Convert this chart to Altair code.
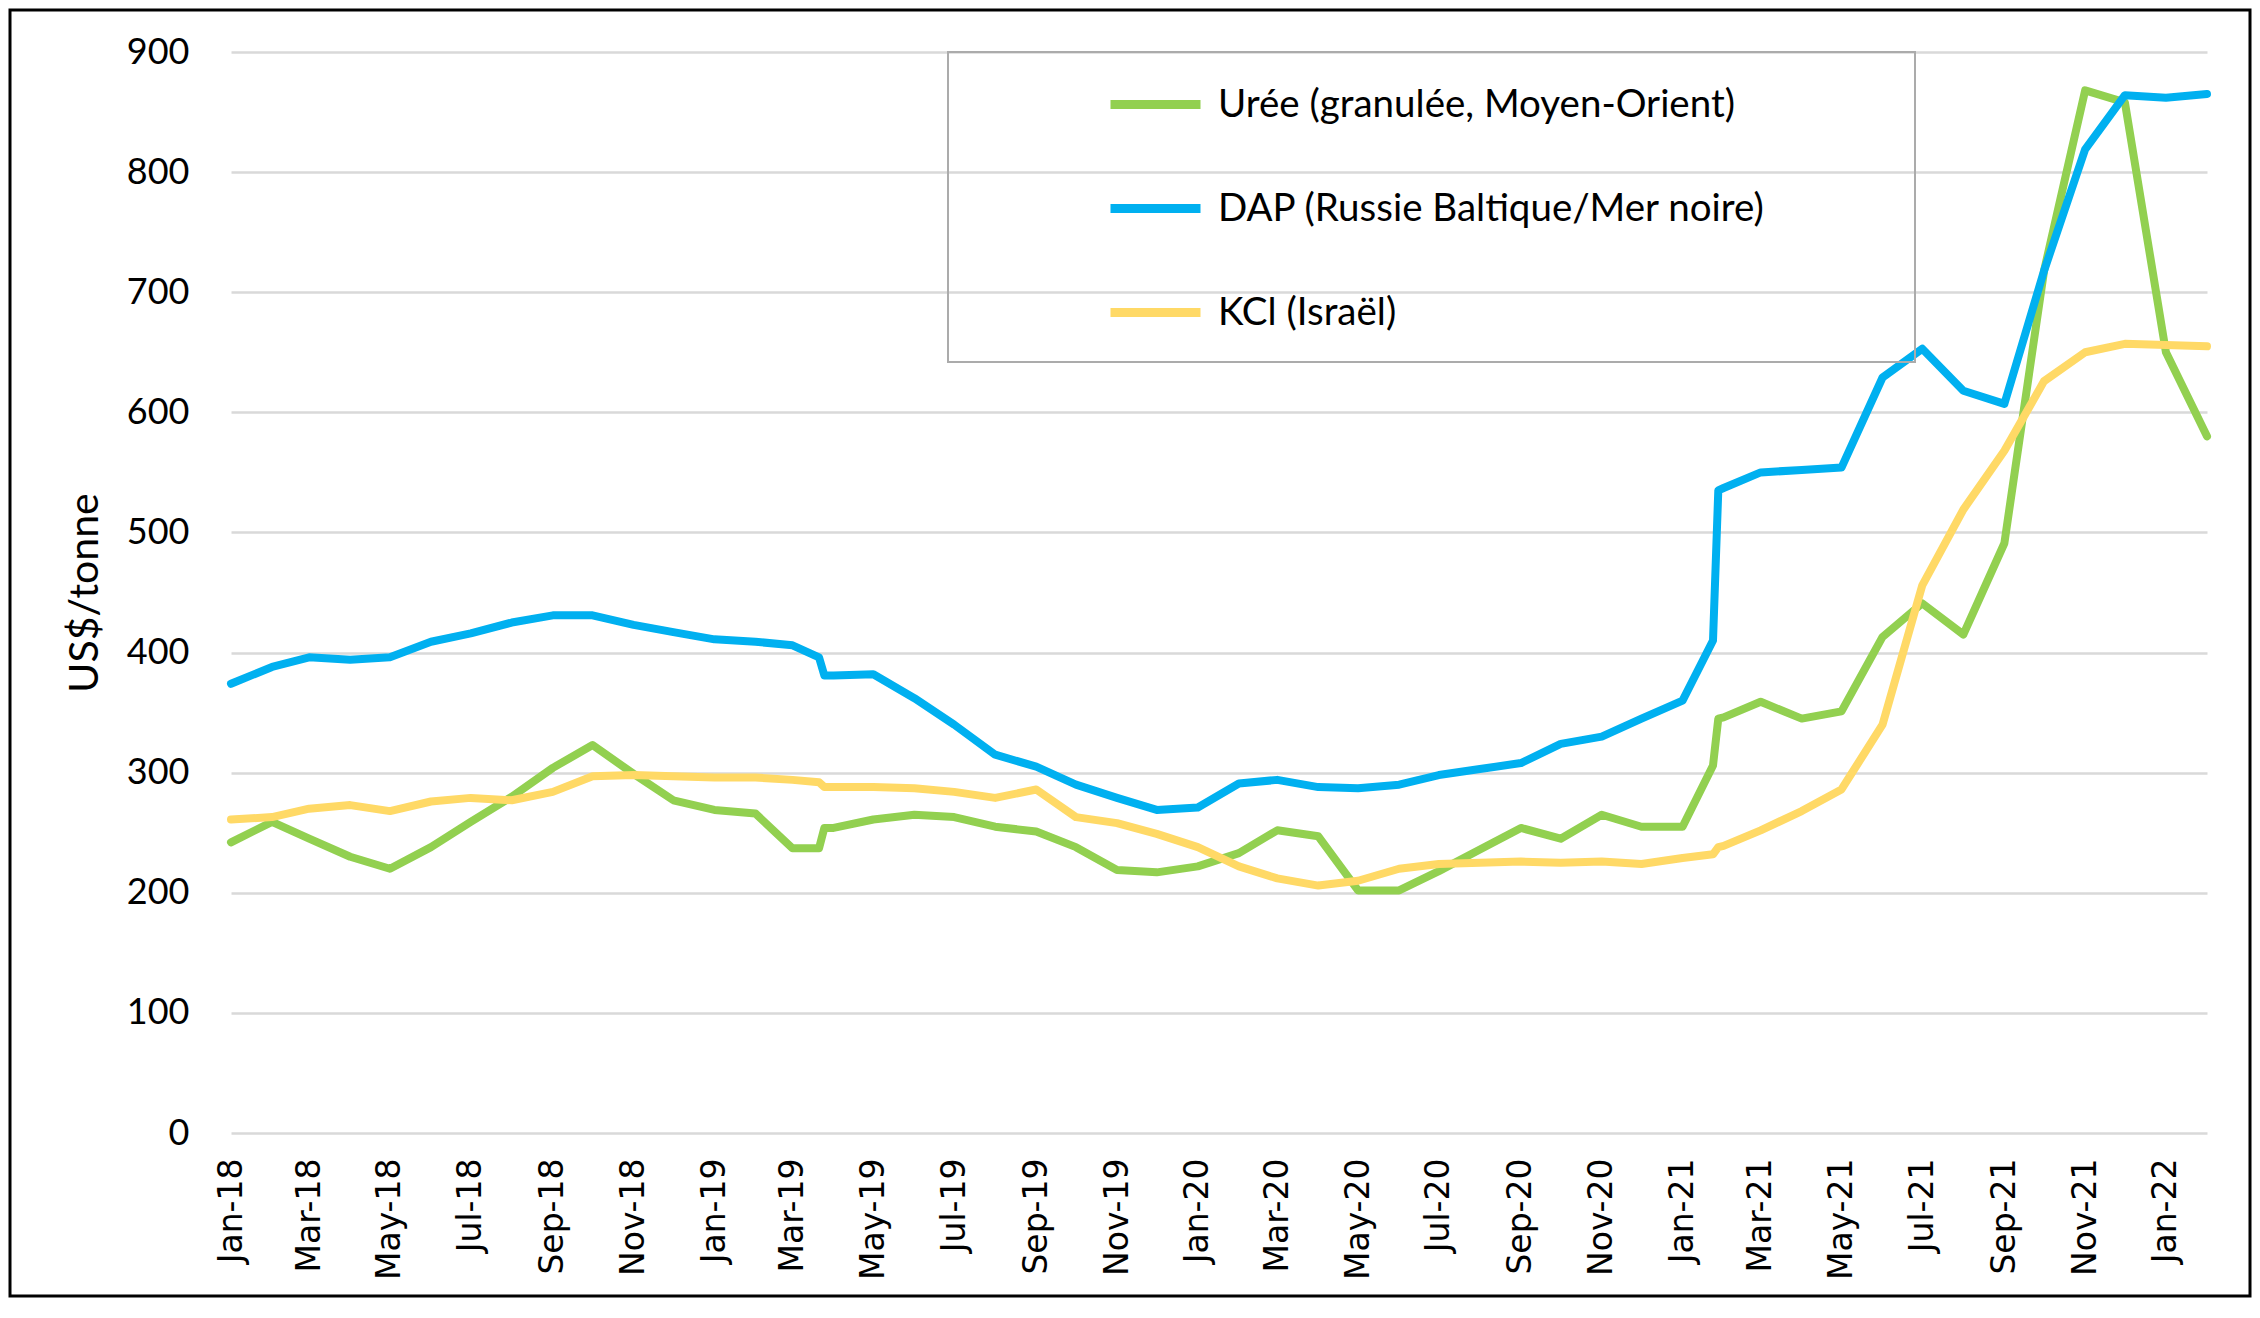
import altair as alt
import pandas as pd

# ---- data (monthly) ----
months = [f"{y}-{m:02d}-01" for y in range(2018, 2023) for m in range(1, 13)][:50]  # Jan-18 .. Feb-22

uree = [242, 259, 245, 230, 220, 238, 259, 280, 304, 323, 299, 277,
        269, 266, 237, 254, 261, 265, 263, 255, 251, 238, 219, 217,
        222, 233, 252, 247, 202, 202, 218, 236, 254, 245, 265, 255,
        255, 346, 359, 345, 351, 413, 441, 415, 491, 718, 868, 858,
        650, 580]
dap = [374, 388, 396, 394, 396, 409, 416, 425, 431, 431, 423, 417,
       411, 409, 406, 381, 382, 362, 340, 315, 305, 290, 279, 269,
       271, 291, 294, 288, 287, 290, 298, 303, 308, 324, 330, 345,
       360, 537, 550, 552, 554, 629, 653, 618, 607, 718, 819, 864,
       862, 865]
kcl = [261, 263, 270, 273, 268, 276, 279, 277, 284, 297, 298, 297,
       296, 296, 294, 288, 288, 287, 284, 279, 286, 263, 258, 249,
       238, 222, 212, 206, 210, 220, 224, 225, 226, 225, 226, 224,
       229, 239, 252, 268, 286, 340, 456, 519, 568, 626, 650, 657,
       656, 655]

# extra points where the source changes (steps in the series): before / after
step_dates = ["2019-03-21", "2019-03-25", "2021-01-24", "2021-01-28"]
uree_step = [237, 254, 306, 345]
dap_step = [396, 381, 410, 535]
kcl_step = [292, 288, 232, 238]

names = ["Urée (granulée, Moyen-Orient)", "DAP (Russie Baltique/Mer noire)", "KCl (Israël)"]
colors = ["#92D050", "#00B0F0", "#FFD966"]

tick_dates = [(y, m) for y in range(2018, 2023) for m in (1, 3, 5, 7, 9, 11) if (y, m) <= (2022, 1)]

rows = []
for name, vals, steps in zip(names, [uree, dap, kcl], [uree_step, dap_step, kcl_step]):
    for d, v in zip(months, vals):
        rows.append({"date": d, "value": v, "series": name})
    for d, v in zip(step_dates, steps):
        rows.append({"date": d, "value": v, "series": name})
df = pd.DataFrame(rows)

FONT = "Lato"

color = alt.Color(
    "series:N",
    scale=alt.Scale(domain=names, range=colors),
    legend=alt.Legend(
        orient="none", legendX=717, legendY=0, direction="vertical",
        title="\u00a0", titleOrient="right", titleAnchor="start", titleBaseline="top",
        titleFont="DejaVu Sans", titleFontSize=307, titlePadding=146, titleLimit=5000,
        symbolType="stroke", symbolStrokeWidth=9, symbolSize=8100,
        labelFont=FONT, labelFontSize=38.5, labelColor="black", labelLimit=2000,
        labelOffset=13, rowPadding=35, padding=3, symbolOffset=155,
        strokeColor="#ABABAB",
    ),
)

x = alt.X(
    "date:T",
    scale=alt.Scale(type="utc", domain=[alt.DateTime(year=2018, month=1, date=1, utc=True),
                                        alt.DateTime(year=2022, month=2, date=1, utc=True)]),
    axis=alt.Axis(
        values=[alt.DateTime(year=y, month=m, date=1, utc=True) for y, m in tick_dates],
        labelExpr="utcFormat(datum.value, '%b-%y')", labelAngle=270, labelAlign="right",
        labelBaseline="middle", labelPadding=25, grid=False, domain=False, ticks=False,
        labelFont="DejaVu Sans", labelFontSize=33, labelColor="black",
        labelFlush=False, labelOverlap=False, title=None,
    ),
)
y = alt.Y(
    "value:Q",
    scale=alt.Scale(domain=[0, 900], nice=False),
    axis=alt.Axis(
        values=list(range(0, 901, 100)), grid=True, gridColor="#D9D9D9", gridWidth=2.5,
        domain=False, ticks=False, labelFont=FONT, labelFontSize=36, labelColor="black",
        labelPadding=42, title="US$/tonne", titleFont=FONT, titleFontSize=41,
        titleFontWeight="normal", titleColor="black", titlePadding=20,
    ),
)

base = alt.Chart(df).mark_line(strokeWidth=8, strokeJoin="round", strokeCap="round").encode(
    x=x, y=y, color=color
)
lines = [base.transform_filter(alt.datum.series == n) for n in names]

frame = alt.Chart(pd.DataFrame({"a": [0]})).mark_rect(
    filled=False, stroke="black", strokeWidth=3
).encode(
    x=alt.value(-221), x2=alt.value(2019), y=alt.value(-42), y2=alt.value(1244)
)

chart = alt.layer(*lines, frame).properties(
    width=1976, height=1081,
    padding={"left": 223, "top": 44, "right": 45, "bottom": 165},
    autosize=alt.AutoSizeParams(type="none"),
    background="white",
).configure_view(stroke="transparent").configure_legend(strokeWidth=2)

chart.save("out.html", embed_options={"renderer": "svg", "actions": False})
